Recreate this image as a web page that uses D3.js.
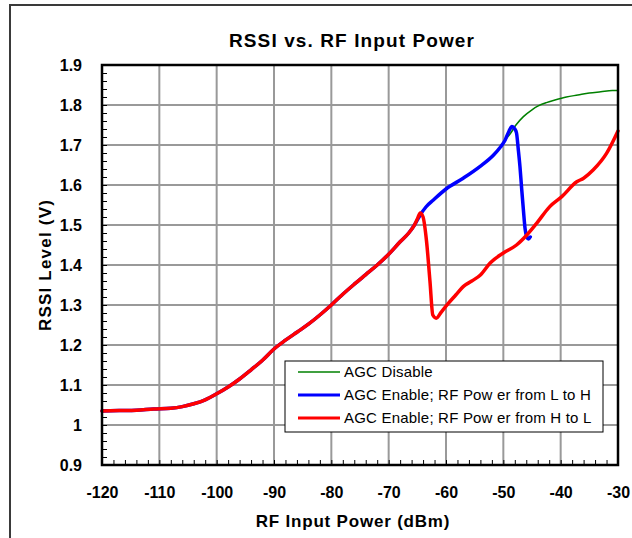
<!DOCTYPE html>
<html><head><meta charset="utf-8">
<script src="https://cdn.jsdelivr.net/npm/d3@7"></script>
<style>body{margin:0;background:#fff}svg{display:block}text{font-family:"Liberation Sans",Arial,sans-serif}</style>
</head><body><svg id="c" width="632" height="538"></svg>
<script>
const title = "RSSI vs. RF Input Power";
const xTitle = "RF Input Power (dBm)";
const yTitle = "RSSI Level (V)";
const xTicks = [-120,-110,-100,-90,-80,-70,-60,-50,-40,-30];
const xTickLabels = ["-120","-110","-100","-90","-80","-70","-60","-50","-40","-30"];
const yTicks = [0.9,1.0,1.1,1.2,1.3,1.4,1.5,1.6,1.7,1.8,1.9];
const yTickLabels = ["0.9","1","1.1","1.2","1.3","1.4","1.5","1.6","1.7","1.8","1.9"];
const seriesNames = ["AGC Disable","AGC Enable; RF Pow er from L to H","AGC Enable; RF Pow er from H to L"];
const seriesColors = ["#008000","#0000ff","#ff0000"];

// shared low-power part
const commonX = [-120,-117,-114,-111,-108,-106,-104,-102,-100,-98,-96,-94,-92,-90,-88,-86,-84,-82,-80,-78,-76,-74,-72,-70,-68,-66.5,-65.5];
const commonY = [1.035,1.036,1.037,1.040,1.042,1.046,1.053,1.063,1.078,1.095,1.115,1.138,1.162,1.190,1.212,1.232,1.252,1.275,1.300,1.327,1.352,1.376,1.400,1.427,1.458,1.480,1.500];
// AGC Disable continuation
const greenX = [-64.5,-63.5,-62.2,-60,-57,-54.1,-51.7,-50.5,-49.7,-48.8,-47.8,-46.5,-45,-44,-42.5,-41,-39,-37,-35,-33,-31,-30];
const greenY = [1.525,1.545,1.5625,1.59,1.617,1.646,1.675,1.695,1.712,1.728,1.750,1.771,1.788,1.797,1.806,1.8125,1.820,1.825,1.830,1.833,1.836,1.836];
// AGC Enable L->H continuation
const blueX = [-64.5,-63.5,-62.2,-60,-57,-54.1,-51.7,-50.5,-49.7,-49.0,-48.5,-48.0,-47.7,-47.4,-47.1,-46.8,-46.5,-46.2,-45.9,-45.6,-45.3];
const blueY = [1.525,1.545,1.5625,1.59,1.617,1.646,1.675,1.695,1.712,1.735,1.746,1.740,1.730,1.690,1.646,1.590,1.5375,1.490,1.470,1.465,1.470];
// AGC Enable H->L continuation
const redX = [-65,-64.5,-64.0,-63.4,-62.8,-62.3,-61.7,-60.8,-59.6,-58.3,-57.0,-55.5,-54.0,-52.3,-50.0,-47.7,-45.9,-44.2,-41.9,-39.8,-37.2,-36.0,-34.3,-32.0,-30.0];
const redY = [1.515,1.530,1.520,1.460,1.360,1.275,1.267,1.283,1.304,1.325,1.346,1.360,1.375,1.405,1.430,1.450,1.475,1.504,1.546,1.571,1.608,1.617,1.638,1.679,1.735];

const svg = d3.select("#c");
const L=102,R=618,T=65,B=465;
const x = d3.scaleLinear().domain([-120,-30]).range([L,R]);
const y = d3.scaleLinear().domain([0.9,1.9]).range([B,T]);

// outer frame
svg.append("rect").attr("x",10).attr("y",5).attr("width",700).attr("height",600)
  .attr("fill","none").attr("stroke","#3a3a3a").attr("stroke-width",2);

// title
svg.append("text").attr("x",352).attr("y",47).attr("text-anchor","middle")
  .attr("font-size",19).attr("font-weight","bold").attr("letter-spacing",1.1).text(title);

// grid
const g = svg.append("g");
g.selectAll(".gx").data(xTicks.slice(1,-1)).join("line")
  .attr("x1",d=>x(d)).attr("x2",d=>x(d)).attr("y1",T).attr("y2",B)
  .attr("stroke","#999").attr("stroke-width",2);
g.selectAll(".gy").data(yTicks.slice(1,-1)).join("line")
  .attr("y1",d=>y(d)).attr("y2",d=>y(d)).attr("x1",L).attr("x2",R)
  .attr("stroke","#999").attr("stroke-width",2);

// minor ticks via axes (inward)
const yMinor = d3.range(0.9,1.9001,0.02);
const xMinor = d3.range(-120,-29.9,2);
svg.append("g").attr("transform",`translate(${L},0)`)
  .call(d3.axisRight(y).tickValues(yMinor).tickSize(5).tickFormat(""))
  .call(a=>a.select(".domain").remove())
  .call(a=>a.selectAll("line").attr("stroke","#000").attr("stroke-width",1));
svg.append("g").attr("transform",`translate(0,${B})`)
  .call(d3.axisTop(x).tickValues(xMinor).tickSize(5).tickFormat(""))
  .call(a=>a.select(".domain").remove())
  .call(a=>a.selectAll("line").attr("stroke","#000").attr("stroke-width",1));

// tick labels via axes
svg.append("g").attr("transform",`translate(${L},0)`)
  .call(d3.axisLeft(y).tickValues(yTicks).tickSize(0).tickPadding(20).tickFormat((d,i)=>yTickLabels[i]))
  .call(a=>a.select(".domain").remove())
  .call(a=>a.selectAll("text").attr("font-size",16).attr("font-weight","bold").attr("fill","#000")
     .attr("font-family","Liberation Sans, Arial, sans-serif"));
svg.append("g").attr("transform",`translate(0,${B})`)
  .call(d3.axisBottom(x).tickValues(xTicks).tickSize(0).tickPadding(22).tickFormat((d,i)=>xTickLabels[i]))
  .call(a=>a.select(".domain").remove())
  .call(a=>a.selectAll("text").attr("font-size",16).attr("font-weight","bold").attr("fill","#000")
     .attr("font-family","Liberation Sans, Arial, sans-serif"));

// axis titles
svg.append("text").attr("x",353).attr("y",527).attr("text-anchor","middle")
  .attr("font-size",17).attr("font-weight","bold").attr("letter-spacing",0.8).text(xTitle);
svg.append("text").attr("transform","translate(51,265) rotate(-90)").attr("text-anchor","middle")
  .attr("font-size",17).attr("font-weight","bold").attr("letter-spacing",1.2).text(yTitle);

// lines
const line = d3.line().x(d=>x(d[0])).y(d=>y(d[1])).curve(d3.curveMonotoneX);
const mk = (xs,ys)=>xs.map((v,i)=>[v,ys[i]]);
const common = mk(commonX,commonY);
const data = [
  common.concat(mk(greenX,greenY)),
  common.concat(mk(blueX,blueY)),
  common.concat(mk(redX,redY))
];
const widths=[1.5,3.5,3.5];
svg.append("g").selectAll("path").data(data).join("path")
  .attr("d",line).attr("fill","none")
  .attr("stroke",(d,i)=>seriesColors[i]).attr("stroke-width",(d,i)=>widths[i])
  .attr("stroke-linejoin","round").attr("stroke-linecap","round");

// plot border
svg.append("rect").attr("x",L).attr("y",T).attr("width",R-L).attr("height",B-T)
  .attr("fill","none").attr("stroke","#000").attr("stroke-width",2.5);

// legend
const lg = svg.append("g");
lg.append("rect").attr("x",285).attr("y",361).attr("width",318).attr("height",71)
  .attr("fill","#fff").attr("stroke","#000").attr("stroke-width",1);
const rows = lg.selectAll(".r").data(seriesNames).join("g").attr("transform",(d,i)=>`translate(0,${372+i*23})`);
rows.append("line").attr("x1",298).attr("x2",340).attr("y1",0).attr("y2",0)
  .attr("stroke",(d,i)=>seriesColors[i]).attr("stroke-width",(d,i)=>widths[i]===1.5?1.5:3);
rows.append("text").attr("x",344).attr("y",5).attr("font-size",15).attr("letter-spacing",0.2).text(d=>d);
</script></body></html>
